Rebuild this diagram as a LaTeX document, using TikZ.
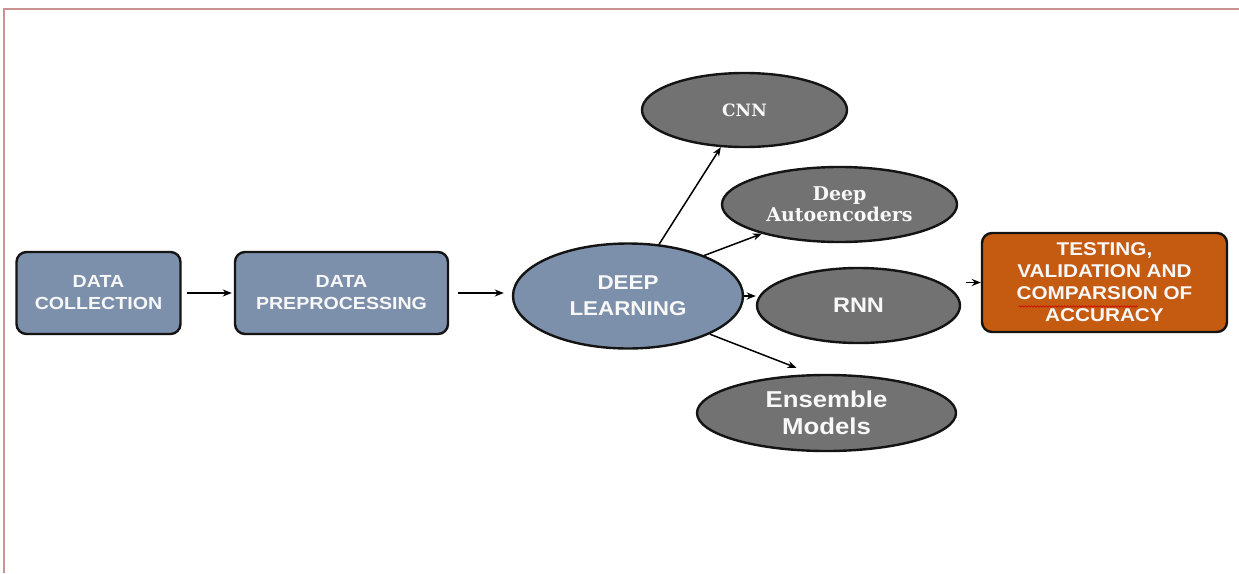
\documentclass[tikz,border=0pt]{standalone}
\usepackage{fontspec}
\usetikzlibrary{arrows.meta,shapes.geometric,decorations.pathmorphing}
\newfontfamily\labelsans[FakeStretch=1.12]{Liberation Sans}
\newfontfamily\labelserif{DejaVu Serif}
\definecolor{stagefill}{RGB}{125,144,171}
\definecolor{modelfill}{RGB}{114,114,114}
\definecolor{resultfill}{RGB}{197,90,17}
\definecolor{edgeline}{RGB}{20,20,20}
\definecolor{framecol}{RGB}{201,147,147}
\definecolor{labeltext}{RGB}{248,248,248}
\tikzset{
  stagebox/.style={draw=edgeline, line width=2.4pt, rounded corners=10pt,
    fill=stagefill, text=labeltext, align=center, inner sep=0pt,
    font={\labelsans\bfseries\fontsize{17.5}{22}\selectfont}},
  stageoval/.style={ellipse, draw=edgeline, line width=2.4pt, fill=stagefill,
    text=labeltext, align=center, inner sep=0pt,
    font={\labelsans\bfseries\fontsize{20}{26}\selectfont}},
  modeloval/.style={ellipse, draw=edgeline, line width=2.4pt, fill=modelfill,
    text=labeltext, align=center, inner sep=0pt},
  sansbig/.style={font={\labelsans\bfseries\fontsize{21}{27}\selectfont}},
  serifmid/.style={font={\labelserif\bfseries\fontsize{19}{21}\selectfont}},
  resultbox/.style={draw=edgeline, line width=2.4pt, rounded corners=10pt,
    fill=resultfill, text=labeltext, align=center, inner sep=0pt,
    font={\labelsans\bfseries\fontsize{18.5}{22}\selectfont}},
  flow/.style={-{Stealth[length=9pt,width=7pt]}, line width=1.5pt, draw=black},
}
\begin{document}
\begin{tikzpicture}[x=1pt,y=-1pt]
\useasboundingbox (0,0) rectangle (1239,573);
\fill[white] (0,0) rectangle (1239,573);
% page frame
\draw[framecol, line width=1.6pt] (4,573) -- (4,9) -- (1239,9);

% pipeline stages
\node[stagebox, minimum width=164pt, minimum height=82pt] (collect) at (98.5,293) {DATA\\COLLECTION};
\node[stagebox, minimum width=213pt, minimum height=82pt] (prep) at (341.5,293) {DATA\\PREPROCESSING};
\node[stageoval, minimum width=230pt, minimum height=105pt] (deep) at (628,296) {DEEP\\LEARNING};

% model families
\node[modeloval, serifmid, minimum width=205pt, minimum height=74pt, font={\labelserif\bfseries\fontsize{17}{21}\selectfont}] (cnn) at (744.5,110) {CNN};
\node[modeloval, serifmid, minimum width=235pt, minimum height=75pt] (auto) at (839.5,204.5) {Deep\\Autoencoders};
\node[modeloval, sansbig, minimum width=203pt, minimum height=75pt] (rnn) at (858.5,305.5) {RNN};
\node[modeloval, minimum width=259pt, minimum height=76pt, font={\labelsans\bfseries\fontsize{23}{27}\selectfont}] (ens) at (826.5,413) {Ensemble\\Models};

% evaluation
\node[resultbox, minimum width=245pt, minimum height=99pt] (test) at (1104.5,282.5) {TESTING,\\VALIDATION AND\\COMPARSION OF\\ACCURACY};
\draw[red!80!black, line width=0.6pt, decorate, decoration={snake, amplitude=0.8pt, segment length=3pt}]
  ([xshift=-86pt,yshift=-24pt]test.center) -- ([xshift=33pt,yshift=-24pt]test.center);

% connectors
\draw[flow, shorten <=5pt, shorten >=2pt] (collect.east) -- (collect.east -| prep.west);
\draw[flow, shorten <=9pt, shorten >=8pt] (prep.east) -- (prep.east -| deep.west);
\draw[flow] (deep.59) -- (cnn);
\draw[flow] (deep.28) -- (auto);
\draw[flow] (deep.east) -- (deep.east -| rnn.west);
\draw[flow] (deep.-25) -- ([xshift=-30pt,yshift=6pt]ens.north);
\draw[flow, shorten <=5pt] (rnn.east |- test.west) -- (test.west);
\end{tikzpicture}
\end{document}
